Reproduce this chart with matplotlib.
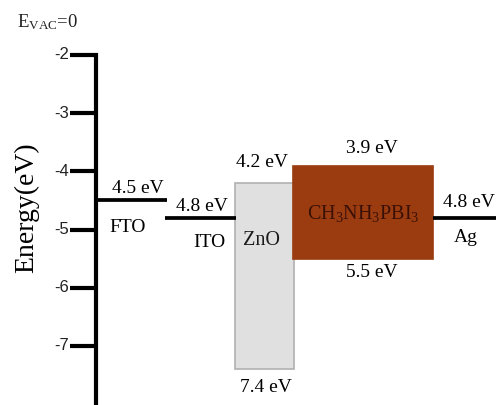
import matplotlib
matplotlib.use("Agg")
import matplotlib.pyplot as plt
from matplotlib.patches import Rectangle

plt.rcParams['font.family'] = ['Liberation Serif', 'DejaVu Serif']
plt.rcParams['mathtext.fontset'] = 'custom'
plt.rcParams['mathtext.rm'] = 'Liberation Serif'
plt.rcParams['mathtext.it'] = 'Liberation Serif'

# energy levels (eV, relative to vacuum)
ticks = [-2, -3, -4, -5, -6, -7]
electrodes = ['FTO', 'ITO', 'Ag']
electrode_level = [-4.5, -4.8, -4.8]
layers = ['ZnO', r'CH$_3$NH$_3$PBI$_3$']
layer_top = [-4.2, -3.9]
layer_bottom = [-7.4, -5.5]

# horizontal extents of each level on the diagram
electrode_x = [(96, 167), (165, 236), (433, 496)]
layer_x = [(235, 294), (293, 433)]
layer_face = ['#e0e0e0', '#9b3c10']
layer_edge = ['#b0b0b0', '#9b3c10']
layer_text = ['#1a1a1a', '#3a1006']

fig = plt.figure(figsize=(4.96, 4.05), dpi=100)
ax = fig.add_axes([0, 0, 1, 1])
ax.set_xlim(0, 496)
ax.set_ylim(-1.056 - 405 / 58.2, -1.056)
ax.axis('off')

# energy axis with ticks on the left
ybot = ax.get_ylim()[0]
ax.plot([70, 96, 96], [ticks[0], ticks[0], ybot], color='black', lw=3.0,
        solid_joinstyle='miter', solid_capstyle='butt')
for t in ticks[1:]:
    ax.plot([70, 96], [t, t], color='black', lw=3.0, solid_capstyle='butt')
for t in ticks:
    ax.text(69, t, str(t), ha='right', va='center', fontsize=12, color='#222222',
            family=['Liberation Sans', 'DejaVu Sans'])

ax.text(27, -4.62, 'Energy(eV)', rotation=90, ha='center', va='center', fontsize=20)
ax.text(17, -1.43, r'E$_{\mathrm{VAC}}$=0', ha='left', va='center', fontsize=13.5,
        color='#222222')

# electrode work functions
label_off = [(138, 0.2, 128, -0.46), (202, 0.19, 209, -0.43), (469, 0.27, 466, -0.33)]
for name, lev, (x0, x1), (vx, vdy, nx, ndy) in zip(electrodes, electrode_level, electrode_x, label_off):
    ax.plot([x0, x1], [lev, lev], color='black', lw=2.7, solid_capstyle='butt', zorder=3)
    ax.text(vx, lev + vdy, f'{abs(lev):.1f} eV', ha='center', va='center', fontsize=14)
    ax.text(nx, lev + ndy, name, ha='center', va='center', fontsize=14)

# band boxes for ZnO and perovskite
top_lab_x = [262, 372]
top_lab_dy = [0.36, 0.3]
bot_lab_x = [266, 372]
bot_lab_dy = [-0.31, -0.23]
name_pos = [(261, -5.18), (363, -4.72)]
for i, name in enumerate(layers):
    x0, x1 = layer_x[i]
    ax.add_patch(Rectangle((x0, layer_bottom[i]), x1 - x0, layer_top[i] - layer_bottom[i],
                           facecolor=layer_face[i], edgecolor=layer_edge[i], lw=1.2, zorder=1 + i))
    ax.text(top_lab_x[i], layer_top[i] + top_lab_dy[i], f'{abs(layer_top[i]):.1f} eV',
            ha='center', va='center', fontsize=14)
    ax.text(bot_lab_x[i], layer_bottom[i] + bot_lab_dy[i], f'{abs(layer_bottom[i]):.1f} eV',
            ha='center', va='center', fontsize=14)
    ax.text(name_pos[i][0], name_pos[i][1], name, ha='center', va='center',
            fontsize=14.5, color=layer_text[i], zorder=5)

fig.savefig('out.png', dpi=100)
